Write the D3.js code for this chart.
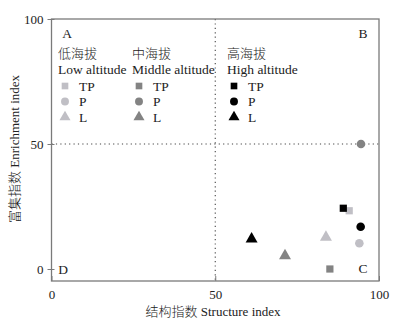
<!DOCTYPE html>
<html>
<head>
<meta charset="utf-8">
<script src="https://cdn.jsdelivr.net/npm/d3@7"></script>
<style>
  html, body { margin: 0; padding: 0; background: #fff; }
  svg text { font-family: "Liberation Serif", "Noto Sans CJK SC", serif; fill: #222; }
  svg tspan.cjk, svg text.cjk { font-family: "Noto Sans CJK SC", sans-serif; font-weight: 300; }
</style>
</head>
<body>
<svg id="chart" width="398" height="323"></svg>
<script>
// Altitude groups and the three sample types
const groups = ["低海拔", "中海拔", "高海拔"];
const groupsEn = ["Low altitude", "Middle altitude", "High altitude"];
const types = ["TP", "P", "L"];
const groupColors = ["#c0bfc5", "#838383", "#000000"];

// Structure index (x) and enrichment index (y) per group, in order TP, P, L
const structureLow = [90.9, 94.0, 83.8];
const enrichLow = [23.3, 10.3, 12.7];
const structureMid = [85.0, 94.5, 71.3];
const enrichMid = [0, 50, 5.3];
const structureHigh = [89.1, 94.4, 61.1];
const enrichHigh = [24.3, 16.9, 12.0];

const xTicks = [0, 50, 100];
const yTicks = [0, 50, 100];
const quadrantLabels = ["A", "B", "C", "D"];

const svg = d3.select("#chart");
const x = d3.scaleLinear().domain([0, 100]).range([51.5, 379]);
const y = d3.scaleLinear().domain([0, 100]).range([269, 19]);
const yBottom = y(-4.8);

const frame = "#7a7a7a";
const shapes = [d3.symbolSquare, d3.symbolCircle, d3.symbolTriangle];
const sizes = [52, 58, 62];

// Quadrant dividers
svg.append("line")
  .attr("x1", x(50)).attr("x2", x(50)).attr("y1", y(100)).attr("y2", yBottom)
  .attr("stroke", "#444").attr("stroke-width", 1.1).attr("stroke-dasharray", "1.2,3.2");
svg.append("line")
  .attr("x1", x(0)).attr("x2", x(100)).attr("y1", y(50)).attr("y2", y(50))
  .attr("stroke", "#444").attr("stroke-width", 1.1).attr("stroke-dasharray", "1.2,3.2");

// Plot frame
svg.append("rect")
  .attr("x", x(0)).attr("y", y(100))
  .attr("width", x(100) - x(0)).attr("height", yBottom - y(100))
  .attr("fill", "none").attr("stroke", frame).attr("stroke-width", 1.3);

// Axes
const yAxis = svg.append("g")
  .attr("transform", `translate(${x(0)},0)`)
  .call(d3.axisLeft(y).tickValues(yTicks).tickSize(4).tickPadding(4));
yAxis.select(".domain").remove();
yAxis.selectAll(".tick line").attr("stroke", frame).attr("x1", 3).attr("x2", -4);
yAxis.selectAll(".tick text").attr("font-size", 13).style("font-family", "Liberation Serif");

const xAxis = svg.append("g")
  .attr("transform", `translate(0,${yBottom})`)
  .call(d3.axisBottom(x).tickValues(xTicks).tickSize(-5).tickPadding(9));
xAxis.select(".domain").remove();
xAxis.selectAll(".tick line").attr("stroke", frame);
xAxis.selectAll(".tick text").attr("font-size", 13).style("font-family", "Liberation Serif");

// Axis titles: Chinese part in the CJK face, English part in the serif face
function bilingual(sel, cn, en) {
  sel.append("tspan").attr("class", "cjk").text(cn);
  sel.append("tspan").text(" " + en);
}
svg.append("text")
  .attr("x", 213).attr("y", 316)
  .attr("text-anchor", "middle").attr("font-size", 13)
  .call(bilingual, "结构指数", "Structure index");
svg.append("text")
  .attr("transform", "translate(19,149) rotate(-90)")
  .attr("text-anchor", "middle").attr("font-size", 13)
  .call(bilingual, "富集指数", "Enrichment index");

// Quadrant letters
const qPos = [[67, 33], [363, 33], [363, 268], [63, 269]];
svg.selectAll("text.quad").data(quadrantLabels).join("text")
  .attr("class", "quad")
  .attr("x", (d, i) => qPos[i][0]).attr("y", (d, i) => qPos[i][1])
  .attr("text-anchor", "middle").attr("dominant-baseline", "central")
  .attr("font-size", 13.5)
  .text(d => d);

// Data points
const series = [
  { xs: structureLow, ys: enrichLow },
  { xs: structureMid, ys: enrichMid },
  { xs: structureHigh, ys: enrichHigh }
];
const pts = [];
series.forEach((s, g) => types.forEach((t, k) => pts.push({ g, k, x: s.xs[k], y: s.ys[k] })));
svg.append("g").selectAll("path").data(pts).join("path")
  .attr("transform", d => `translate(${x(d.x)},${y(d.y)})`)
  .attr("d", d => d3.symbol().type(shapes[d.k]).size(sizes[d.k])())
  .attr("fill", d => groupColors[d.g]);

// Legend
const legX = [58, 132, 227];
const legend = svg.append("g");
groups.forEach((name, g) => {
  const lg = legend.append("g").attr("transform", `translate(${legX[g]},0)`);
  lg.append("text").attr("class", "cjk").attr("x", 0).attr("y", 52).attr("dominant-baseline", "central")
    .attr("font-size", 13).text(name);
  lg.append("text").attr("x", 0).attr("y", 69).attr("dominant-baseline", "central")
    .attr("font-size", 13.5).text(groupsEn[g]);
  types.forEach((t, k) => {
    const ry = 86 + k * 15.5;
    lg.append("path")
      .attr("transform", `translate(7,${ry})`)
      .attr("d", d3.symbol().type(shapes[k]).size(sizes[k] * 0.85)())
      .attr("fill", groupColors[g]);
    lg.append("text").attr("x", 21).attr("y", ry).attr("dominant-baseline", "central")
      .attr("font-size", 13.5).text(t);
  });
});
</script>
</body>
</html>
